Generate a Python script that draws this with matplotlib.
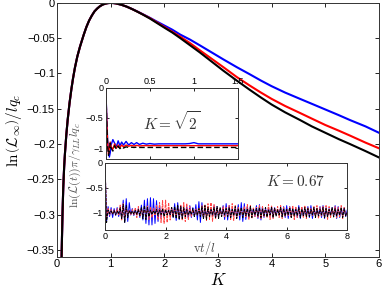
import numpy as np
import matplotlib
matplotlib.use("Agg")
import matplotlib.pyplot as plt

plt.rcParams['font.family'] = ['Liberation Sans', 'DejaVu Sans']
plt.rcParams['mathtext.fontset'] = 'cm'

# main curves: ln(L_inf)/l q_c against K
k_vals = [0.087, 0.095, 0.105, 0.118, 0.135, 0.15, 0.175, 0.2, 0.235, 0.27, 0.3, 0.335,
          0.38, 0.43, 0.5, 0.55, 0.6, 0.65, 0.7, 0.75, 0.8, 0.85, 0.9, 0.95, 1.0,
          1.05, 1.1, 1.2, 1.3, 1.4, 1.5, 1.6, 1.73, 1.85, 2.0, 2.15, 2.3, 2.48, 2.66,
          2.88, 3.1, 3.35, 3.59, 3.8, 4.0, 4.25, 4.53, 4.75, 5.0, 5.25, 5.46, 5.75, 6.0]
black_main = [-0.36, -0.33, -0.297, -0.262, -0.232, -0.213, -0.187, -0.166, -0.142, -0.122,
              -0.107, -0.092, -0.076, -0.062, -0.045, -0.034, -0.025, -0.018, -0.012,
              -0.008, -0.0048, -0.0025, -0.0011, -0.0003, 0.0,
              -0.0002, -0.0007, -0.0026, -0.0053, -0.0087, -0.0125, -0.0165, -0.022,
              -0.0278, -0.035, -0.042, -0.050, -0.060, -0.070, -0.083, -0.096, -0.110,
              -0.123, -0.134, -0.144, -0.155, -0.166, -0.175, -0.184, -0.193, -0.200,
              -0.210, -0.219]
red_main = [-0.36, -0.33, -0.297, -0.262, -0.232, -0.213, -0.187, -0.166, -0.142, -0.122,
            -0.107, -0.092, -0.076, -0.062, -0.045, -0.034, -0.025, -0.018, -0.012,
            -0.008, -0.0048, -0.0025, -0.0011, -0.0003, 0.0,
            -0.0002, -0.0007, -0.0026, -0.0053, -0.0087, -0.0124, -0.0163, -0.0215,
            -0.027, -0.034, -0.041, -0.048, -0.057, -0.067, -0.079, -0.091, -0.105,
            -0.117, -0.127, -0.136, -0.146, -0.156, -0.164, -0.173, -0.181, -0.188,
            -0.198, -0.206]
blue_main = [-0.36, -0.33, -0.297, -0.262, -0.232, -0.213, -0.187, -0.166, -0.142, -0.122,
             -0.107, -0.092, -0.076, -0.062, -0.045, -0.034, -0.025, -0.018, -0.012,
             -0.008, -0.0048, -0.0025, -0.0011, -0.0003, 0.0,
             -0.0002, -0.0007, -0.0026, -0.0053, -0.0086, -0.0122, -0.016, -0.021,
             -0.026, -0.032, -0.038, -0.045, -0.052, -0.060, -0.070, -0.080, -0.091,
             -0.101, -0.110, -0.118, -0.127, -0.136, -0.143, -0.151, -0.159, -0.166,
             -0.175, -0.184]

# inset 1, K = sqrt(2)
t1 = [0, 0.01, 0.02, 0.03, 0.04, 0.05, 0.06, 0.08, 0.10, 0.12, 0.14, 0.16, 0.18, 0.20,
      0.23, 0.26, 0.29, 0.32, 0.35, 0.38, 0.42, 0.46, 0.50, 0.55, 0.60, 0.7, 0.8, 0.9,
      0.95, 1.0, 1.05, 1.1, 1.2, 1.3, 1.4, 1.5]
blue_s2 = [0, -0.45, -0.85, -1.05, -1.15, -1.08, -0.95, -0.86, -0.92, -0.98, -0.88, -0.96,
           -0.90, -0.95, -0.89, -0.95, -0.91, -0.94, -0.91, -0.94, -0.92, -0.935, -0.925,
           -0.935, -0.93, -0.93, -0.93, -0.93, -0.925, -0.91, -0.93, -0.93, -0.93, -0.93,
           -0.93, -0.93]
red_s2 = [0, -0.5, -0.9, -1.1, -1.0, -0.9, -0.98, -1.02, -0.93, -1.0, -0.95, -0.99, -0.95,
          -0.98, -0.95, -0.97, -0.955, -0.965, -0.955, -0.965, -0.96, -0.96, -0.96, -0.96,
          -0.96, -0.96, -0.96, -0.96, -0.96, -0.96, -0.96, -0.96, -0.96, -0.96, -0.96, -0.96]
black_s2 = [0, -0.55, -0.95, -1.12, -1.05, -0.92, -1.0, -1.05, -0.96, -1.02, -0.97, -1.01,
            -0.98, -1.0, -0.98, -0.99, -0.985, -0.99, -0.985, -0.99, -0.99, -0.99, -0.99,
            -0.99, -0.99, -0.99, -0.99, -0.99, -0.99, -0.99, -0.99, -0.99, -0.99, -0.99,
            -0.99, -0.99]

# inset 2, K = 0.67 (samples every 0.05 in vt/l)
blue_067 = [0, -1.18, -0.88, -1.08, -0.9, -1.1, -0.92, -1.06, -0.9, -1.08,
            -0.92, -1.12, -0.75, -1.2, -0.72, -1.18, -0.8, -1.05, -0.92, -1.06,
            -0.94, -1.05, -0.92, -1.1, -0.85, -1.15, -0.75, -1.22, -0.72, -1.25,
            -0.7, -1.25, -0.72, -1.22, -0.76, -1.18, -0.85, -1.1, -0.93, -1.06,
            -0.95, -1.04, -0.94, -1.06, -0.9, -1.1, -0.82, -1.16, -0.8, -1.14,
            -0.86, -1.1, -0.92, -1.05, -0.88, -1.12, -0.86, -1.1, -0.9, -1.08,
            -0.84, -1.15, -0.78, -1.2, -0.8, -1.12, -0.9, -1.06, -0.93, -1.05,
            -0.9, -1.08, -0.86, -1.12, -0.88, -1.08, -0.93, -1.05, -0.86, -1.14,
            -0.82, -1.15, -0.86, -1.1, -0.92, -1.06, -0.9, -1.1, -0.84, -1.15,
            -0.8, -1.18, -0.82, -1.14, -0.88, -1.1, -0.9, -1.05, -0.92, -1.08,
            -0.86, -1.12, -0.84, -1.15, -0.88, -1.1, -0.92, -1.05, -0.9, -1.08,
            -0.88, -1.1, -0.9, -1.06, -0.94, -1.04, -0.9, -1.08, -0.88, -1.1,
            -0.86, -1.12, -0.88, -1.08, -0.92, -1.06, -0.9, -1.1, -0.86, -1.12,
            -0.9, -1.08, -0.92, -1.05, -0.88, -1.1, -0.86, -1.12, -0.9, -1.06,
            -0.92, -1.06, -0.88, -1.1, -0.86, -1.12, -0.9, -1.08, -0.92, -1.05,
            -0.9, -1.08, -0.86, -1.12, -0.88, -1.1, -0.92, -1.06, -0.9, -1.08,
            -0.95]
red_067 = [0, -1.1, -0.92, -1.05, -0.94, -1.04, -0.95, -1.05, -0.92, -1.06,
           -0.85, -1.15, -0.82, -1.12, -0.9, -1.06, -0.95, -1.04, -0.94, -1.05,
           -0.9, -1.1, -0.88, -1.08, -0.93, -1.05, -0.9, -1.1, -0.86, -1.14,
           -0.88, -1.1, -0.92, -1.06, -0.86, -1.14, -0.8, -1.2, -0.76, -1.22,
           -0.75, -1.2, -0.8, -1.15, -0.9, -1.08, -0.92, -1.06, -0.9, -1.1,
           -0.84, -1.16, -0.8, -1.18, -0.82, -1.14, -0.88, -1.08, -0.94, -1.05,
           -0.92, -1.06, -0.9, -1.08, -0.86, -1.12, -0.84, -1.16, -0.82, -1.14,
           -0.8, -1.18, -0.84, -1.12, -0.9, -1.06, -0.92, -1.08, -0.88, -1.1,
           -0.9, -1.08, -0.86, -1.14, -0.82, -1.16, -0.86, -1.1, -0.9, -1.06,
           -0.92, -1.05, -0.88, -1.1, -0.84, -1.14, -0.86, -1.12, -0.9, -1.08,
           -0.9, -1.1, -0.86, -1.12, -0.88, -1.08, -0.9, -1.1, -0.84, -1.14,
           -0.86, -1.12, -0.9, -1.06, -0.88, -1.1, -0.86, -1.12, -0.9, -1.08,
           -0.92, -1.06, -0.88, -1.1, -0.86, -1.14, -0.88, -1.1, -0.92, -1.05,
           -0.88, -1.1, -0.86, -1.12, -0.9, -1.08, -0.92, -1.06, -0.88, -1.1,
           -0.86, -1.12, -0.9, -1.08, -0.88, -1.1, -0.86, -1.14, -0.88, -1.1,
           -0.92, -1.06, -0.88, -1.1, -0.9, -1.08, -0.86, -1.12, -0.9, -1.06,
           -1.0]
black_067 = [0, -1.2, -0.95, -1.02, -0.97, -1.03, -0.96, -1.04, -0.97, -1.03,
             -0.9, -1.12, -0.84, -1.2, -0.86, -1.1, -0.96, -1.03, -0.97, -1.03,
             -0.96, -1.04, -0.94, -1.06, -0.9, -1.12, -0.86, -1.14, -0.9, -1.08,
             -0.95, -1.04, -0.96, -1.03, -0.94, -1.06, -0.95, -1.04, -0.92, -1.08,
             -0.94, -1.05, -0.96, -1.04, -0.9, -1.1, -0.88, -1.12, -0.86, -1.14,
             -0.88, -1.12, -0.9, -1.08, -0.94, -1.05, -0.96, -1.04, -0.92, -1.08,
             -0.95, -1.05, -0.92, -1.08, -0.88, -1.12, -0.86, -1.14, -0.9, -1.08,
             -0.94, -1.05, -0.9, -1.1, -0.88, -1.12, -0.9, -1.08, -0.94, -1.05,
             -0.92, -1.08, -0.9, -1.1, -0.94, -1.06, -0.88, -1.12, -0.92, -1.06,
             -0.9, -1.1, -0.94, -1.06, -0.92, -1.08, -0.88, -1.1, -0.94, -1.05,
             -0.92, -1.07, -0.9, -1.1, -0.93, -1.06, -0.9, -1.09, -0.94, -1.05,
             -0.9, -1.1, -0.92, -1.07, -0.94, -1.05, -0.9, -1.09, -0.92, -1.07,
             -0.94, -1.05, -0.9, -1.1, -0.92, -1.07, -0.94, -1.06, -0.9, -1.1,
             -0.93, -1.06, -0.9, -1.09, -0.92, -1.08, -0.94, -1.05, -0.9, -1.1,
             -0.92, -1.07, -0.94, -1.05, -0.9, -1.1, -0.92, -1.08, -0.94, -1.06,
             -0.9, -1.09, -0.92, -1.07, -0.94, -1.05, -0.9, -1.1, -0.92, -1.07,
             -1.0]
t2 = np.linspace(0, 8, len(blue_067))


def style_axes(ax, size):
    ax.tick_params(direction='in', labelsize=size, length=3, width=0.6,
                   top=True, right=True, pad=1.5)
    for s in ax.spines.values():
        s.set_linewidth(0.7)
        s.set_color('#333333')


fig = plt.figure(figsize=(3.82, 2.91), dpi=100)

# main axes
ax = fig.add_axes([0.149, 0.117, 0.843, 0.873])
ax.plot(k_vals, blue_main, color='#0000ff', lw=1.5)
ax.plot(k_vals, red_main, color='#ff0000', lw=1.5)
ax.plot(k_vals, black_main, color='black', lw=1.5)
ax.set_xlim(0, 6)
ax.set_ylim(-0.36, 0)
ax.set_xticks([0, 1, 2, 3, 4, 5, 6])
ax.set_yticks([0, -0.05, -0.1, -0.15, -0.2, -0.25, -0.3, -0.35])
ax.set_yticklabels(['0', '−0.05', '−0.1', '−0.15', '−0.2', '−0.25', '−0.3', '−0.35'])
style_axes(ax, 8)
ax.set_xlabel(r'$K$', fontsize=12, labelpad=2)
ax.set_ylabel(r'$\ln\left(\mathcal{L}_\infty\right)/lq_c$', fontsize=11, labelpad=2)

# inset 1
ax1 = fig.add_axes([0.277, 0.454, 0.346, 0.244])
ax1.plot(t1, blue_s2, color='#0000ff', lw=1.0)
ax1.plot(t1, red_s2, color='#ff0000', lw=1.0)
ax1.plot(t1, black_s2, color='black', lw=1.0, ls=(0, (4, 2)))
ax1.set_xlim(0, 1.5)
ax1.set_ylim(-1.18, 0)
ax1.set_xticks([0, 0.5, 1, 1.5])
ax1.set_xticklabels(['0', '0.5', '1', '1.5'])
ax1.set_yticks([0, -0.5, -1])
ax1.set_yticklabels(['0', '−0.5', '−1'])
style_axes(ax1, 6.5)
ax1.tick_params(labeltop=True, labelbottom=False, length=2)
ax1.text(0.75, -0.55, r'$K=\sqrt{2}$', fontsize=11, ha='center', va='center', color='#333333')

# inset 2
ax2 = fig.add_axes([0.275, 0.210, 0.634, 0.230])
ax2.plot(t2, blue_067, color='#0000ff', lw=0.7)
ax2.plot(t2, red_067, color='#ff4444', lw=0.7, ls=(0, (3, 1)))
ax2.plot(t2, black_067, color='black', lw=0.7, ls=(0, (3, 1)))
ax2.set_xlim(0, 8)
ax2.set_ylim(-1.35, 0)
ax2.set_xticks([0, 2, 4, 6, 8])
ax2.set_yticks([0, -0.5, -1])
ax2.set_yticklabels(['0', '−0.5', '−1'])
style_axes(ax2, 6.5)
ax2.tick_params(length=2)
ax2.text(6.3, -0.37, r'$K=0.67$', fontsize=11, ha='center', va='center', color='#333333')
ax2.set_xlabel(r'$\mathrm{v}t/l$', fontsize=9, color='#444444')
ax2.xaxis.set_label_coords(0.41, -0.13)

fig.text(75 / 382, 1 - 165 / 291, r'$\ln(\mathcal{L}(t))\pi/\gamma_{LL}lq_c$',
         rotation=90, fontsize=8.5, ha='center', va='center', color='#555555')

fig.savefig('out.png', dpi=100)
